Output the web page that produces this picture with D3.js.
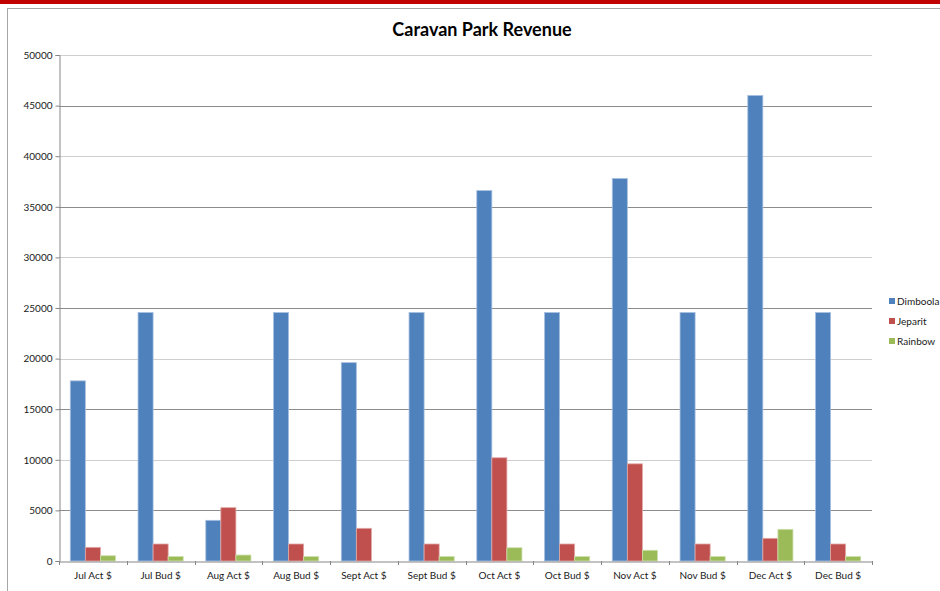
<!DOCTYPE html>
<html>
<head>
<meta charset="utf-8">
<script src="https://cdn.jsdelivr.net/npm/d3@7"></script>
<style>
  html, body { margin: 0; padding: 0; background: #fff; }
  svg { display: block; }
  text { font-family: Lato, "Open Sans", "Liberation Sans", sans-serif; fill: #1a1a1a; }
</style>
</head>
<body>
<svg id="chart" width="940" height="591"></svg>
<script>
// Revenue by park and month (actual vs. budget)
const categories = ["Jul Act $", "Jul Bud $", "Aug Act $", "Aug Bud $", "Sept Act $", "Sept Bud $",
                    "Oct Act $", "Oct Bud $", "Nov Act $", "Nov Bud $", "Dec Act $", "Dec Bud $"];
const seriesNames = ["Dimboola", "Jeparit", "Rainbow"];
const dimboola = [17800, 24550, 4020, 24550, 19600, 24550, 36600, 24550, 37800, 24550, 46000, 24550];
const jeparit  = [1350, 1680, 5270, 1680, 3230, 1680, 10200, 1680, 9600, 1680, 2240, 1680];
const rainbow  = [520, 440, 590, 440, 0, 450, 1310, 440, 1060, 440, 3130, 440];
const yTicks = [0, 5000, 10000, 15000, 20000, 25000, 30000, 35000, 40000, 45000, 50000];
const colors = ["#4F81BD", "#C0504D", "#9BBB59"];
const edgeColors = ["#a7c0e0", "#e0a8a6", "#cde0ab"];

const seriesValues = [dimboola, jeparit, rainbow];
const svg = d3.select("#chart");

// Top banner and chart frame
svg.append("rect").attr("x", 0).attr("y", 0).attr("width", 940).attr("height", 4).attr("fill", "#C00000");
svg.append("rect").attr("x", 7.5).attr("y", 8.5).attr("width", 1000).attr("height", 1000)
  .attr("fill", "none").attr("stroke", "#a6a6a6").attr("stroke-width", 1);

const plotLeft = 59, plotRight = 872, plotTop = 55, plotBottom = 561;

const x0 = d3.scaleBand().domain(categories).range([plotLeft, plotRight]).paddingInner(0).paddingOuter(0);
const x1 = d3.scaleBand().domain(seriesNames).range([0, x0.bandwidth()]).paddingInner(0).paddingOuter(0.75);
const y = d3.scaleLinear().domain([0, 50000]).range([plotBottom, plotTop]);

// Title
svg.append("text").attr("x", 482).attr("y", 36).attr("text-anchor", "middle")
  .style("font-size", "18px").style("font-weight", "bold").style("fill", "#000")
  .text("Caravan Park Revenue");

// Horizontal gridlines
svg.append("g").selectAll("line").data(yTicks.filter(d => d > 0)).join("line")
  .attr("x1", plotLeft).attr("x2", plotRight)
  .attr("y1", d => Math.round(y(d)) + 0.5).attr("y2", d => Math.round(y(d)) + 0.5)
  .attr("stroke", d => (d / 5000) % 2 === 0 ? "#cfcfcf" : "#8c8c8c")
  .attr("stroke-width", 1);

// Y axis
const yAxis = svg.append("g").attr("transform", `translate(${plotLeft + 0.5},0)`)
  .call(d3.axisLeft(y).tickValues(yTicks).tickSize(4).tickPadding(3).tickFormat(d3.format("d")));
yAxis.select(".domain").attr("stroke", "#868686");
yAxis.selectAll(".tick line").attr("stroke", "#868686");
yAxis.selectAll(".tick text").style("font-size", "10px").style("font-family", "Lato, 'Open Sans', sans-serif").attr("fill", "#1a1a1a");

// Bars
const groups = svg.append("g").selectAll("g").data(categories).join("g")
  .attr("transform", d => `translate(${x0(d)},0)`);
groups.selectAll("rect")
  .data((c, i) => seriesNames.map((s, k) => ({ s, k, v: seriesValues[k][i] })))
  .join("rect")
  .attr("x", d => x1(d.s))
  .attr("y", d => y(d.v))
  .attr("width", x1.bandwidth())
  .attr("height", d => plotBottom - y(d.v))
  .attr("fill", d => colors[d.k])
  .attr("stroke", d => d.v > 0 ? edgeColors[d.k] : "none")
  .attr("stroke-width", 0.8);

// X axis
const xAxis = svg.append("g").attr("transform", `translate(0,${plotBottom + 0.5})`)
  .call(d3.axisBottom(x0).tickSize(0).tickPadding(10));
xAxis.select(".domain").attr("stroke", "#868686");
xAxis.selectAll(".tick text").style("font-size", "10px").style("font-family", "Lato, 'Open Sans', sans-serif").attr("fill", "#1a1a1a");
// Category boundary tick marks
svg.append("g").selectAll("line").data(d3.range(categories.length + 1)).join("line")
  .attr("x1", i => Math.round(plotLeft + i * x0.step()) + 0.5)
  .attr("x2", i => Math.round(plotLeft + i * x0.step()) + 0.5)
  .attr("y1", plotBottom).attr("y2", plotBottom + 4)
  .attr("stroke", "#868686");

// Legend
const legend = svg.append("g").selectAll("g").data(seriesNames).join("g")
  .attr("transform", (d, i) => `translate(889,${301 + i * 20})`);
legend.append("rect").attr("x", 0).attr("y", -3).attr("width", 6).attr("height", 6)
  .attr("fill", (d, i) => colors[i]);
legend.append("text").attr("x", 8).attr("y", 3.5).style("font-size", "10px").text(d => d);
</script>
</body>
</html>
